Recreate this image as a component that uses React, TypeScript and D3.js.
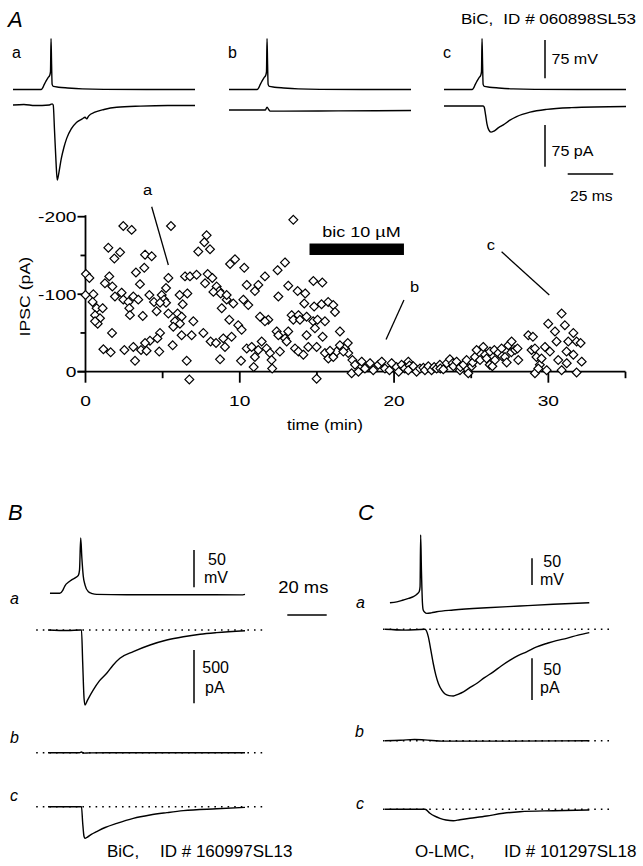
import React from "react";
import * as d3 from "d3";

// ---------------- DATA ----------------
// Scatter: IPSC amplitude (pA, negative = larger current) vs time (min)
const scatterTime = [
  2.45, 2.99, 5.54, 1.48, 2.24, 1.87, 7.85, 7.7, 8.07, 7.31, 3.86, 4.29, 0.03, 0.25, 9.69, 9.37, 10.29, 3.81, 3.27, 1.54,
  1.26, 1.74, 3.53, 5.37, 6.45, 6.77, 7.2, 7.92, 8.22, 7.75, 8.5, 8.67, 10.45, 5.22, 4.94, 5.09, 5.22, 6.1, 6.6, 0.51,
  0.0, 0.46, 0.72, 1.11, 0.62, 0.94, 0.79, 0.62, 1.91, 2.34, 2.45, 3.1, 2.78, 3.42, 2.84, 2.88, 4.14, 4.44, 4.83, 4.61,
  6.3, 5.97, 6.23, 5.8, 6.12, 5.69, 5.37, 3.71, 6.99, 8.29, 8.76, 9.15, 9.58, 8.83, 9.15, 10.23, 10.55, 9.32, 9.9, 10.12,
  1.72, 6.23, 6.88, 7.64, 8.11, 8.46, 8.93, 9.47, 9.04, 4.18, 3.86, 4.83, 4.66, 3.6, 3.96, 3.1, 2.52, 1.16, 1.63, 5.65,
  4.78, 3.21, 6.56, 8.72, 10.08, 10.45, 6.73, 10.9, 12.1,
  13.47, 12.93, 12.45, 11.63, 11.2, 10.98, 13.14, 13.75, 14.24, 12.5, 14.77, 15.35, 14.18, 14.82, 15.3, 15.73, 16.06, 16.17,
  13.36, 13.8, 13.47, 11.85, 11.63, 11.31, 13.9, 14.33, 14.76, 15.04, 15.52, 14.87, 15.37, 16.49, 14.33, 12.39, 12.5, 13.14,
  12.93, 13.04, 11.42, 10.77, 11.2, 11.74, 11.96, 10.98, 12.06, 12.6, 13.58, 13.8, 14.12, 14.44, 14.98, 15.52, 15.74, 16.06,
  16.28, 15.85, 16.49, 16.82, 17.03, 16.71, 17.3, 17.0, 14.98, 17.25, 17.69, 17.47, 17.9, 18.11, 18.44, 18.65, 18.98, 19.2,
  19.41, 19.7, 19.84, 20.16, 20.3, 20.49, 20.7, 20.92, 21.0,
  20.92, 21.25, 21.46, 21.68, 21.9, 22.0, 22.22, 22.43, 22.6, 22.76, 22.97, 23.0, 23.19, 23.41, 23.62, 23.8, 23.84, 24.05,
  24.27, 24.3, 24.49, 24.7, 24.81, 25.03, 25.1, 25.24, 25.35, 25.57, 25.78, 25.9, 26.0, 26.2, 26.22, 26.37, 26.5, 26.54,
  26.76, 26.97, 27.0, 27.19, 27.3, 27.41, 27.6, 27.62, 27.84, 28.0, 28.05, 28.7, 29.0, 28.91, 29.13, 29.23, 29.45, 29.13,
  29.35, 29.56, 29.78, 29.89, 29.99, 30.1, 30.43, 30.53, 30.64, 30.86, 30.86, 31.07, 31.18, 31.19, 31.29, 31.62, 31.62,
  31.83, 31.83, 32.09, 32.16,
];
const scatterIPSC = [
  -188, -183, -188, -160, -154, -146, -176, -167, -158, -155, -151, -149, -126, -121, -145, -139, -134, -134, -128, -123,
  -114, -110, -113, -121, -123, -123, -125, -126, -121, -114, -110, -104, -112, -108, -99, -93, -89, -99, -101, -100,
  -99, -90, -82, -82, -73, -69, -62, -65, -97, -102, -93, -97, -90, -93, -82, -73, -99, -90, -89, -78,
  -87, -75, -71, -65, -62, -58, -75, -72, -65, -103, -101, -93, -88, -82, -99, -93, -86, -67, -60, -54,
  -50, -47, -47, -50, -39, -37, -43, -45, -32, -40, -37, -50, -43, -28, -27, -32, -28, -29, -25, -34,
  -26, -14, -14, -16, -14, -30, 10, -6, -4,
  -196, -141, -131, -123, -112, -104, -111, -104, -101, -97, -117, -115, -88, -84, -87, -90, -86, -77,
  -73, -73, -67, -67, -65, -71, -67, -71, -65, -67, -65, -56, -45, -52, -47, -52, -47, -52,
  -43, -39, -39, -32, -28, -30, -24, -19, -15, -26, -30, -26, -22, -32, -32, -24, -17, -19,
  -26, -27, -34, -30, -24, -26, -15, -37, 9, 2, 0, -9, -13, -4, -11, -2, -9, -13,
  -4, -2, -11, -6, 0, -9, -4, -13, -8,
  -2, -7, 0, -4, -5, -2, -7, -2, -6, -4, -9, -4, -3, -11, -16, -11, -7, -13,
  -2, -6, -9, -15, 2, -7, -12, -19, -28, -15, -32, -22, -17, -9, -26, -7, -28, -15,
  -24, -30, -20, -19, -12, -34, -25, -39, -28, -30, -15, -47, -45, -28, -30, -19, -9, 2,
  -4, -17, -32, -2, -62, -26, -52, -39, -15, -75, -2, -60, -26, -11, -39, -50, -22,
  -39, 1, -37, -13,
];

const xTicksMajor = [0, 10, 20, 30];
const xTicksMinor = [5, 15, 25, 35];
const yTicksMajor = [-200, -100, 0];
const yTicksMinor = [-150, -50];

const bicTime = [14.52, 20.64];
const bicLevel = [-165.4, -150.6];
const bicLabel = "bic 10 µM";

// annotation lines in scatter (time, pA)
const annA = [[4.29, -212.9], [5.37, -137.7]];
const annB = [[20.64, -92.5], [19.48, -41.5]];
const annC = [[26.97, -154.8], [30.06, -99]];
const annLabels = [
  { t: "a", x: 3.73, y: -228.6 },
  { t: "b", x: 21.03, y: -103.2 },
  { t: "c", x: 26.0, y: -157 },
];

// Panel A traces: [ms, mV] and [ms, pA]
const spikeA = [
  [0, -60], [15.5, -60], [16.3, -57], [17.2, -50], [18.2, -43], [19.2, -37], [20.2, -32], [20.6, -25], [20.9, 40],
  [21.2, -10], [21.5, -50], [22.2, -54], [25, -55.5], [30, -57], [38, -58.8], [50, -59.7], [100, -60],
];
const iAa = [
  [0, 0], [6, 1], [12, -1], [20, 0], [21.5, 2], [22.1, 0], [22.8, -45], [23.6, -100], [24.3, -135], [25.2, -122],
  [26.5, -97], [28, -76], [29.5, -60], [32, -43], [35, -31], [38, -25], [39.6, -22], [40.5, -25], [41.5, -20],
  [45, -13], [50, -8], [57, -4], [70, -2], [85, -1], [100, -1],
];
const iAb = [[0, 0], [20, 0], [20.9, 5], [21.8, 1], [22.6, -2], [30, -2], [60, -1.5], [100, -1]];
const iAc = [
  [0, 0], [21.5, 0], [22.1, -2], [22.8, -15], [23.6, -32], [24.6, -43], [25.8, -47], [27.5, -45], [30, -39],
  [32.6, -34], [36, -26], [39.9, -19], [47.3, -11], [56.4, -6], [70, -3], [100, -1],
];

// Panel B traces
const vBa = [
  [1, -59], [6, -59], [7.5, -55], [8.6, -49], [10.5, -44], [12, -41], [14, -38], [15.4, -35], [16, -28], [16.6, 15],
  [17.2, -12], [17.9, -36], [18.8, -48], [20.5, -57], [22.5, -59.5], [24.7, -60.5], [40, -61], [70, -61], [98, -61.2], [100, -60.5],
];
const iBa = [
  [0, 0], [10, -5], [16.5, 0], [17, 0], [17.6, -300], [18.3, -640], [18.8, -703], [20, -660], [23, -562], [26, -480],
  [29.8, -406], [33, -330], [36.5, -265], [43.3, -203], [51.8, -141], [60.3, -94], [68.7, -63], [77.2, -40],
  [85.6, -25], [100, -7],
];
const iBb = [[0, 0], [16, 0], [17, 6], [18, -4], [21, -2], [30, 0], [100, 0]];
const iBc = [
  [0, 0], [16.5, 0], [17, 0], [17.6, -150], [18.3, -280], [18.8, -296], [20, -285], [22, -260], [24.7, -234],
  [29, -195], [34.9, -156], [43.3, -109], [51.8, -78], [60.3, -56], [68.7, -37], [85.6, -19], [100, -6],
];

// Panel C traces
const vCa = [
  [2.5, -60], [6, -58.5], [9.3, -55], [12, -52], [14.4, -48.8], [16.2, -44], [17.4, -39], [17.8, -30], [18.1, 67],
  [18.5, 0], [19.0, -60], [19.4, -73.7], [20.2, -78], [21.2, -80], [23.5, -79], [26.2, -77], [34.7, -73.7],
  [51.6, -69.4], [68.5, -66.2], [85.4, -63], [103.7, -60],
];
const iCa = [
  [0, 0], [10, -1], [20.3, 0], [22, -9], [23.2, -24], [24.5, -41], [25.8, -55], [27.1, -65], [28.8, -73], [30.5, -77.6],
  [32.5, -79.5], [34.7, -80], [37, -78], [39.8, -75], [43, -70], [46.5, -65], [50.5, -58], [55, -51], [59, -44],
  [63.5, -37], [67.5, -31.5], [71.9, -27], [77, -21], [82.1, -17], [87, -13.5], [92.2, -10.8], [98, -7], [103.7, -4],
];
const iCb = [[0, 0], [8, 0.5], [15, 1.5], [20, 1], [30, -0.5], [60, -0.5], [103.7, 0]];
const iCc = [
  [0, 0], [20.3, 0], [22.8, -4.8], [25, -8], [27.9, -10.8], [31, -12.8], [34.7, -13.7], [38, -12.5], [43.1, -10.8],
  [51.6, -8], [60, -4.8], [68.5, -2.9], [85.4, -1.7], [103.7, -0.8],
];

const dottedB = [-6, 109];
const dottedC = [-1, 115];

// ---------------- HELPERS ----------------
const FONT = "'Liberation Sans', Arial, Helvetica, sans-serif";

function T({ x, y, children, size = 14, sx = 1, anchor = "start", italic = false, rotate = 0 }: any) {
  return (
    <text
      transform={`translate(${x},${y}) rotate(${rotate}) scale(${sx},1)`}
      fontSize={size}
      textAnchor={anchor}
      fontStyle={italic ? "italic" : "normal"}
      fontFamily={FONT}
      fill="#000"
    >
      {children}
    </text>
  );
}

function makeLine(x0: number, y0: number, xs: any, ys: any) {
  return d3
    .line<number[]>()
    .x((d) => x0 + xs(d[0]))
    .y((d) => y0 + ys(d[1]))
    .curve(d3.curveMonotoneX);
}

export default function App() {
  // scatter scales
  const xS = d3.scaleLinear().domain([0, 35]).range([85.5, 625.5]);
  const yS = d3.scaleLinear().domain([0, -200]).range([371.7, 216.7]);

  // panel A scales (relative)
  const xA = d3.scaleLinear().domain([0, 100]).range([0, 182]);
  const vA = d3.scaleLinear().domain([-60, 40]).range([0, -51]);
  const iA = d3.scaleLinear().domain([0, -75]).range([0, 41.7]);
  const A_x0 = [13, 229, 444];
  const A_vy = 89.5;
  const A_iy = [105, 110, 106];

  // panel B scales
  const xB = d3.scaleLinear().domain([0, 100]).range([0, 197]);
  const vB = d3.scaleLinear().domain([-60, -10]).range([0, -37.3]);
  const iB = d3.scaleLinear().domain([0, -500]).range([0, 53.3]);
  const B_x0 = 48;
  const B_vy = 594;
  const B_iy = [630, 752.7, 806.7];

  // panel C scales
  const vC = d3.scaleLinear().domain([-60, -10]).range([0, -26.7]);
  const iC = d3.scaleLinear().domain([0, -50]).range([0, 41.7]);
  const C_x0 = 385;
  const C_vy = 602.7;
  const C_iy = [629.3, 740.7, 809.3];

  const sw = 1.4;
  const diamond = "M0,-4.4L4.4,0L0,4.4L-4.4,0Z";

  const lineA = (i: number, data: any, isV: boolean) =>
    makeLine(A_x0[i], isV ? A_vy : A_iy[i], xA, isV ? vA : iA)(data) as string;

  const traceProps = { fill: "none", stroke: "#000", strokeWidth: sw, strokeLinejoin: "round" as const };
  const dotProps = { stroke: "#000", strokeWidth: 1.4, strokeDasharray: "1.6,5" };

  return (
    <svg width={643} height={866} style={{ position: "absolute", left: 0, top: 0, background: "#fff" }}>
      <rect width={643} height={866} fill="#fff" />

      {/* ---------- Panel A header ---------- */}
      <T x={8} y={27} size={22} italic>A</T>
      <T x={461} y={24} size={15.5} sx={1.1}>BiC,</T>
      <T x={636} y={24} size={15.5} sx={1.1} anchor="end">ID # 060898SL53</T>

      {["a", "b", "c"].map((l, i) => (
        <T key={l} x={A_x0[i] - 1} y={58} size={16}>{l}</T>
      ))}
      {[0, 1, 2].map((i) => (
        <path key={"va" + i} d={lineA(i, spikeA, true)} {...traceProps} />
      ))}
      <path d={lineA(0, iAa, false)} {...traceProps} />
      <path d={lineA(1, iAb, false)} {...traceProps} />
      <path d={lineA(2, iAc, false)} {...traceProps} />

      {/* panel A scale bars */}
      <line x1={545} x2={545} y1={40} y2={40 + (vA(-60) - vA(15))} stroke="#000" strokeWidth={1.5} />
      <T x={551.5} y={64} size={14} sx={1.15}>75 mV</T>
      <line x1={545} x2={545} y1={125} y2={125 + iA(-75)} stroke="#000" strokeWidth={1.5} />
      <T x={551.5} y={156} size={14} sx={1.15}>75 pA</T>
      <line x1={567.7} x2={567.7 + xA(25)} y1={174} y2={174} stroke="#000" strokeWidth={1.5} />
      <T x={570} y={201} size={14} sx={1.12}>25 ms</T>

      {/* ---------- Scatter ---------- */}
      <line x1={xS(0)} x2={xS(0)} y1={yS(-200) - 1.5} y2={yS(0)} stroke="#000" strokeWidth={1.8} />
      <line x1={xS(0) - 8} x2={xS(35)} y1={yS(0)} y2={yS(0)} stroke="#000" strokeWidth={1.8} />
      {yTicksMajor.map((v) => (
        <g key={"ym" + v}>
          <line x1={xS(0) - 8} x2={xS(0)} y1={yS(v)} y2={yS(v)} stroke="#000" strokeWidth={1.8} />
          <T x={xS(0) - 9} y={yS(v) + 5.5} size={15} sx={1.28} anchor="end">{v === 0 ? "0" : String(v)}</T>
        </g>
      ))}
      {yTicksMinor.map((v) => (
        <line key={"yn" + v} x1={xS(0) - 5} x2={xS(0)} y1={yS(v)} y2={yS(v)} stroke="#000" strokeWidth={1.8} />
      ))}
      {xTicksMajor.map((t) => (
        <g key={"xm" + t}>
          <line x1={xS(t)} x2={xS(t)} y1={yS(0)} y2={yS(0) + 11} stroke="#000" strokeWidth={1.8} />
          <T x={xS(t)} y={406} size={15} sx={1.28} anchor="middle">{String(t)}</T>
        </g>
      ))}
      {xTicksMinor.map((t) => (
        <line key={"xn" + t} x1={xS(t)} x2={xS(t)} y1={yS(0)} y2={yS(0) + 6.5} stroke="#000" strokeWidth={1.8} />
      ))}
      <T x={325} y={429.5} size={15} sx={1.14} anchor="middle">time (min)</T>
      <T x={30} y={296.7} size={15} sx={1.18} anchor="middle" rotate={-90}>IPSC (pA)</T>

      {/* bic bar */}
      <rect
        x={xS(bicTime[0])}
        width={xS(bicTime[1]) - xS(bicTime[0])}
        y={yS(bicLevel[0])}
        height={yS(bicLevel[1]) - yS(bicLevel[0])}
        fill="#000"
      />
      <T x={xS(15.35)} y={yS(-174.2)} size={15} sx={1.2}>{bicLabel}</T>

      {/* annotation lines */}
      {[annA, annB, annC].map((a, i) => (
        <line key={"ann" + i} x1={xS(a[0][0])} y1={yS(a[0][1])} x2={xS(a[1][0])} y2={yS(a[1][1])} stroke="#000" strokeWidth={1.3} />
      ))}
      {annLabels.map((l) => (
        <T key={"al" + l.t} x={xS(l.x)} y={yS(l.y)} size={15} sx={1.1}>{l.t}</T>
      ))}

      {/* points */}
      {scatterTime.map((t, i) => (
        <path
          key={"p" + i}
          d={diamond}
          transform={`translate(${xS(t)},${yS(scatterIPSC[i])})`}
          fill="#fff"
          stroke="#000"
          strokeWidth={1.2}
        />
      ))}

      {/* ---------- Panel B ---------- */}
      <T x={8} y={520} size={22} italic>B</T>
      <T x={10} y={604} size={16} italic>a</T>
      <T x={10} y={743} size={16} italic>b</T>
      <T x={10} y={801} size={16} italic>c</T>
      {B_iy.map((y, i) => (
        <line key={"bd" + i} x1={B_x0 + xB(dottedB[0])} x2={B_x0 + xB(dottedB[1])} y1={y} y2={y} {...dotProps} />
      ))}
      <path d={makeLine(B_x0, B_vy, xB, vB)(vBa) as string} {...traceProps} />
      <path d={makeLine(B_x0, B_iy[0], xB, iB)(iBa) as string} {...traceProps} />
      <path d={makeLine(B_x0, B_iy[1], xB, iB)(iBb) as string} {...traceProps} />
      <path d={makeLine(B_x0, B_iy[2], xB, iB)(iBc) as string} {...traceProps} />

      <line x1={194} x2={194} y1={550} y2={550 + (vB(-60) - vB(-10))} stroke="#000" strokeWidth={1.5} />
      <T x={208} y={565} size={16}>50</T>
      <T x={204} y={583.3} size={16}>mV</T>
      <line x1={194} x2={194} y1={650} y2={650 + iB(-500)} stroke="#000" strokeWidth={1.5} />
      <T x={202.3} y={673.3} size={16}>500</T>
      <T x={205} y={693.3} size={16}>pA</T>

      <T x={278.3} y={593.3} size={16} sx={1.15}>20 ms</T>
      <line x1={287.3} x2={287.3 + xB(20)} y1={615} y2={615} stroke="#000" strokeWidth={1.5} />

      <T x={107} y={857} size={17}>BiC,</T>
      <T x={160} y={857} size={17}>ID # 160997SL13</T>

      {/* ---------- Panel C ---------- */}
      <T x={358} y={520} size={22} italic>C</T>
      <T x={356} y={608} size={16} italic>a</T>
      <T x={355} y={737} size={16} italic>b</T>
      <T x={356} y={809} size={16} italic>c</T>
      {C_iy.map((y, i) => (
        <line key={"cd" + i} x1={C_x0 + xB(dottedC[0])} x2={C_x0 + xB(dottedC[1])} y1={y} y2={y} {...dotProps} />
      ))}
      <path d={makeLine(C_x0, C_vy, xB, vC)(vCa) as string} {...traceProps} />
      <path d={makeLine(C_x0, C_iy[0], xB, iC)(iCa) as string} {...traceProps} />
      <path d={makeLine(C_x0, C_iy[1], xB, iC)(iCb) as string} {...traceProps} />
      <path d={makeLine(C_x0, C_iy[2], xB, iC)(iCc) as string} {...traceProps} />

      <line x1={532} x2={532} y1={558.3} y2={558.3 + (vC(-60) - vC(-10))} stroke="#000" strokeWidth={1.5} />
      <T x={543.3} y={566.7} size={16}>50</T>
      <T x={540} y={585} size={16}>mV</T>
      <line x1={532} x2={532} y1={658.3} y2={658.3 + iC(-50)} stroke="#000" strokeWidth={1.5} />
      <T x={543.3} y={675} size={16}>50</T>
      <T x={540} y={693.3} size={16}>pA</T>

      <T x={415} y={857} size={17}>O-LMC,</T>
      <T x={504} y={857} size={17}>ID # 101297SL18</T>
    </svg>
  );
}
